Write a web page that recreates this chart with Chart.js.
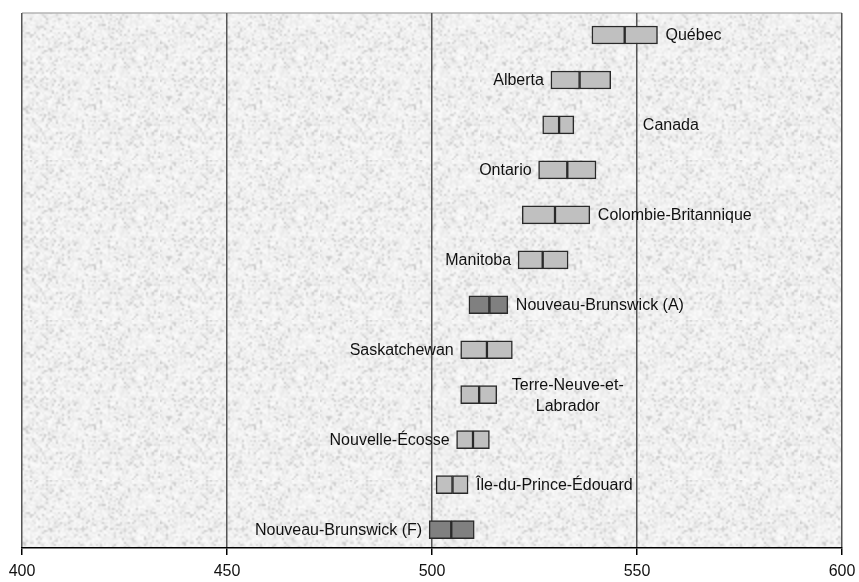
<!DOCTYPE html>
<html>
<head>
<meta charset="utf-8">
<script src="https://cdn.jsdelivr.net/npm/chart.js@4.4.1/dist/chart.umd.min.js"></script>
<style>
  html, body { margin: 0; padding: 0; background: #fff; }
  #wrap { width: 859px; height: 582px; }
</style>
</head>
<body>
<div id="wrap"><canvas id="chart"></canvas></div>
<script>
// Moyennes et intervalles de confiance par province
const provinces = ['Québec', 'Alberta', 'Canada', 'Ontario', 'Colombie-Britannique', 'Manitoba',
    'Nouveau-Brunswick (A)', 'Saskatchewan', 'Terre-Neuve-et-Labrador', 'Nouvelle-Écosse',
    'Île-du-Prince-Édouard', 'Nouveau-Brunswick (F)'];
const lowerBound = [539, 529, 527, 526, 522, 521, 509, 507, 507, 506, 501, 499.3];
const mean       = [547, 536, 531, 533, 530, 527, 514, 513.4, 511.5, 510, 505, 504.7];
const upperBound = [555, 543.6, 534.6, 540, 538.5, 533.2, 518.5, 519.6, 515.8, 514, 508.8, 510.3];
const labelLines = [['Québec'], ['Alberta'], ['Canada'], ['Ontario'], ['Colombie-Britannique'], ['Manitoba'],
    ['Nouveau-Brunswick (A)'], ['Saskatchewan'], ['Terre-Neuve-et-', 'Labrador'], ['Nouvelle-Écosse'],
    ['Île-du-Prince-Édouard'], ['Nouveau-Brunswick (F)']];
const xTicks = [400, 450, 500, 550, 600];

const lightFill = '#c0c0c0';
const darkFill = '#808080';
const fills = provinces.map(p => p.startsWith('Nouveau-Brunswick') ? darkFill : lightFill);
const font = '"Liberation Sans", Arial, sans-serif';

// fond granité (motif déterministe, pas de données)
function makeTexture() {
    const small = document.createElement('canvas');
    small.width = 80; small.height = 80;
    const g = small.getContext('2d');
    const img = g.createImageData(80, 80);
    let s = 987654;
    for (let i = 0; i < 80 * 80; i++) {
        s = (s * 1103515245 + 12345) & 0x7fffffff;
        const n = (s >> 8) % 100;
        const v = n < 14 ? 200 + n * 2 : 232 + (n % 20);
        img.data[i * 4] = v; img.data[i * 4 + 1] = v; img.data[i * 4 + 2] = v; img.data[i * 4 + 3] = 255;
    }
    g.putImageData(img, 0, 0);
    const big = document.createElement('canvas');
    big.width = 160; big.height = 160;
    const bg = big.getContext('2d');
    bg.imageSmoothingEnabled = true;
    bg.drawImage(small, 0, 0, 160, 160);
    return big;
}

const backgroundPlugin = {
    id: 'plotBackground',
    beforeDraw(chart) {
        const { ctx, chartArea: a } = chart;
        ctx.save();
        ctx.fillStyle = ctx.createPattern(makeTexture(), 'repeat');
        ctx.fillRect(a.left, a.top, a.right - a.left, a.bottom - a.top);
        ctx.strokeStyle = '#b4b4b4';
        ctx.lineWidth = 1.5;
        ctx.beginPath();
        ctx.moveTo(a.left, a.top);
        ctx.lineTo(a.right, a.top);
        ctx.stroke();
        ctx.restore();
    }
};

const labelPlugin = {
    id: 'barLabels',
    afterDatasetsDraw(chart) {
        const { ctx } = chart;
        const x = chart.scales.x, y = chart.scales.y;
        ctx.save();
        ctx.font = '16px ' + font;
        ctx.fillStyle = '#111';
        ctx.textBaseline = 'middle';
        provinces.forEach((p, i) => {
            const cy = y.getPixelForValue(i) + 1;
            const lines = labelLines[i];
            if (i % 2 === 1) {
                ctx.textAlign = 'right';
                ctx.fillText(lines[0], x.getPixelForValue(lowerBound[i]) - 7, cy);
            } else if (lines.length > 1) {
                ctx.textAlign = 'center';
                const cx = x.getPixelForValue(upperBound[i]) + 71;
                ctx.fillText(lines[0], cx, cy - 10);
                ctx.fillText(lines[1], cx, cy + 11);
            } else {
                ctx.textAlign = 'left';
                const gap = p === 'Canada' ? 69 : 8;
                ctx.fillText(lines[0], x.getPixelForValue(upperBound[i]) + gap, cy);
            }
        });
        ctx.restore();
    }
};

const barStyle = {
    backgroundColor: fills,
    borderColor: '#2a2a2a',
    borderWidth: 1.5,
    borderSkipped: false,
    barThickness: 18,
    grouped: false
};

new Chart(document.getElementById('chart'), {
    type: 'bar',
    data: {
        datasets: [
            Object.assign({ data: provinces.map((p, i) => ({ x: [lowerBound[i], mean[i]], y: i })) }, barStyle),
            Object.assign({ data: provinces.map((p, i) => ({ x: [mean[i], upperBound[i]], y: i })) }, barStyle)
        ]
    },
    options: {
        indexAxis: 'y',
        responsive: true,
        maintainAspectRatio: false,
        animation: false,
        layout: { padding: { left: 22, right: 17, top: 13, bottom: 0 } },
        plugins: {
            legend: { display: false },
            tooltip: { enabled: false }
        },
        scales: {
            x: {
                min: 400,
                max: 600,
                afterBuildTicks: axis => { axis.ticks = xTicks.map(v => ({ value: v })); },
                afterFit: axis => { axis.height = 34; axis.paddingLeft = 0; axis.paddingRight = 0; },
                border: { display: true, color: '#000', width: 1.5 },
                grid: {
                    color: '#555',
                    lineWidth: 1.5,
                    tickColor: '#000',
                    tickLength: 7
                },
                ticks: {
                    color: '#111',
                    padding: 7,
                    maxRotation: 0,
                    font: { family: font, size: 16 }
                }
            },
            y: {
                type: 'linear',
                reverse: true,
                offset: false,
                min: -0.49,
                max: 11.41,
                display: false
            }
        }
    },
    plugins: [backgroundPlugin, labelPlugin]
});
</script>
</body>
</html>
